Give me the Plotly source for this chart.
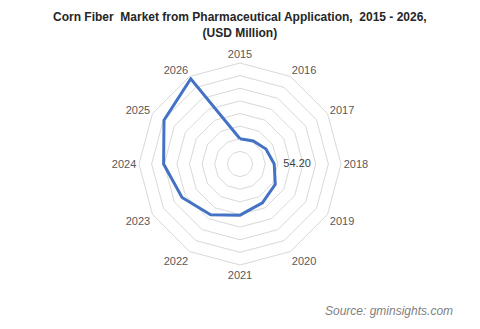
import plotly.graph_objects as go

years = ["2015", "2016", "2017", "2018", "2019", "2020", "2021", "2022", "2023", "2024", "2025", "2026"]
values = [40, 42, 47.5, 54.2, 64.5, 71, 81, 93, 106, 121, 139, 156]
label_year = "2018"
label_text = "54.20"

fig = go.Figure()
fig.add_trace(go.Scatterpolar(
    r=values + [values[0]], theta=years + [years[0]],
    mode="lines", line=dict(color="#4472C4", width=3),
    hoverinfo="skip", showlegend=False,
))
fig.add_trace(go.Scatterpolar(
    r=[values[years.index(label_year)]], theta=[label_year],
    mode="text", text=["\u00a0\u00a0\u00a0" + label_text], textposition="middle right",
    textfont=dict(family="Liberation Sans, Arial", size=11, color="#404040"),
    showlegend=False, hoverinfo="skip",
))

W, H = 480, 329
cx, cy, R = 240, 164, 101
fig.update_layout(
    width=W, height=H,
    margin=dict(l=0, r=0, t=0, b=0),
    paper_bgcolor="white", plot_bgcolor="white",
    font=dict(family="Liberation Sans, Arial", color="#595959"),
    polar=dict(
        domain=dict(x=[(cx - R) / W, (cx + R) / W], y=[(H - cy - R) / H, (H - cy + R) / H]),
        bgcolor="white",
        gridshape="linear",
        angularaxis=dict(
            type="category", categoryarray=years, rotation=90, direction="clockwise",
            showgrid=False, showline=True, linecolor="#d9d9d9", linewidth=1,
            ticks="", tickfont=dict(size=11, color="#595959"),
        ),
        radialaxis=dict(
            range=[0, 160], dtick=20, showgrid=True, gridcolor="#d9d9d9", gridwidth=1,
            showticklabels=False, showline=False, ticks="",
        ),
    ),
    annotations=[
        dict(text="<b>Corn Fiber  Market from Pharmaceutical Application,  2015 - 2026,<br>(USD Million)</b>",
             x=0.5, y=1 - 8 / H, xref="paper", yref="paper", xanchor="center", yanchor="top",
             showarrow=False, font=dict(size=12, color="#262626", family="Liberation Sans, Arial")),
        dict(text="<i>Source: gminsights.com</i>",
             x=455 / W, y=1 - 311 / H, xref="paper", yref="paper", xanchor="right", yanchor="middle",
             showarrow=False, font=dict(size=12, color="#7f7f7f", family="Liberation Sans, Arial")),
    ],
)
fig.write_html("out.html")
